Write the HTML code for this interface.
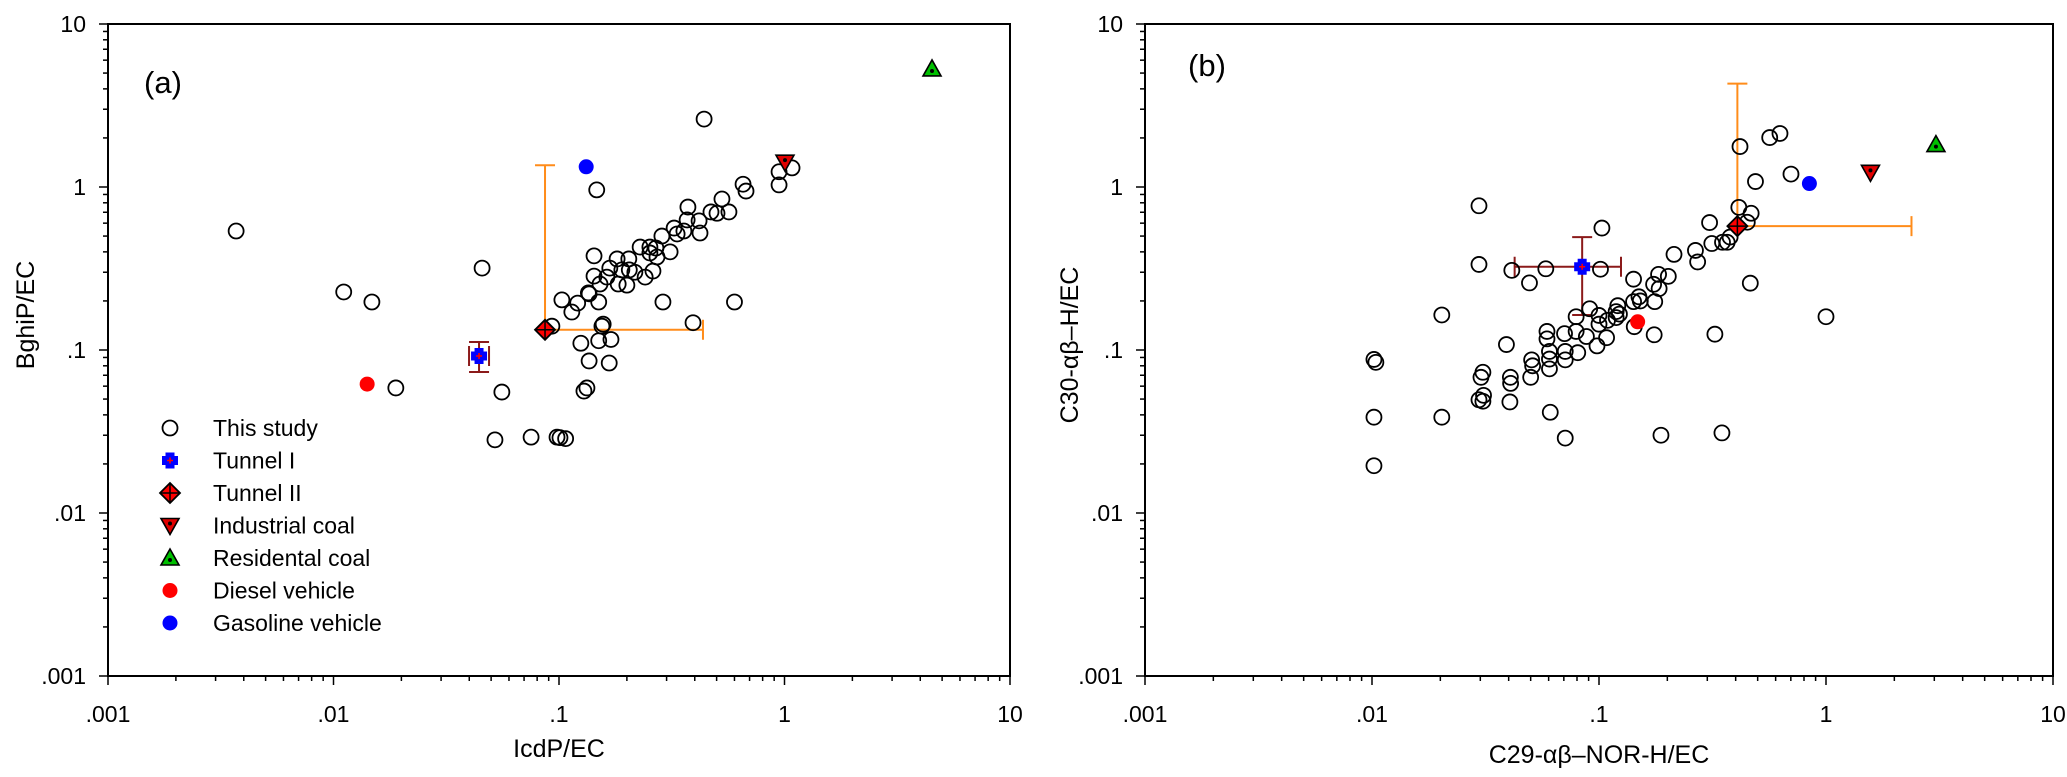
<!DOCTYPE html>
<html><head><meta charset="utf-8">
<style>
html,body{margin:0;padding:0;background:#fff;}
svg{display:block;font-family:"Liberation Sans",Arial,sans-serif;}
</style></head>
<body>
<svg id="chart" width="2067" height="777" viewBox="0 0 2067 777" xmlns="http://www.w3.org/2000/svg"></svg>
<script>
// ---------- data: panel (a) ----------
const studyAX = [0.0037,0.0111,0.0148,0.0189,0.0456,0.0558,0.052,0.0752,0.098,0.101,0.107,0.147,0.093,0.143,0.103,0.114,0.121,0.136,0.150,0.143,0.163,0.152,0.155,0.125,0.150,0.170,0.136,0.167,0.133,0.129,0.44,1.08,0.946,0.946,0.655,0.675,0.528,0.373,0.472,0.502,0.567,0.370,0.418,0.324,0.358,0.422,0.334,0.286,0.229,0.253,0.269,0.311,0.253,0.272,0.181,0.204,0.168,0.190,0.205,0.217,0.261,0.241,0.183,0.20,0.135,0.289,0.60,0.393,0.157];
const studyAY = [0.537,0.227,0.197,0.0585,0.318,0.0552,0.0281,0.0292,0.0292,0.029,0.0286,0.96,0.140,0.378,0.203,0.171,0.194,0.221,0.197,0.284,0.280,0.254,0.140,0.110,0.114,0.116,0.0857,0.0832,0.0585,0.056,2.61,1.31,1.24,1.03,1.04,0.944,0.844,0.753,0.703,0.69,0.703,0.628,0.62,0.56,0.537,0.522,0.515,0.50,0.428,0.428,0.422,0.40,0.394,0.372,0.362,0.362,0.318,0.31,0.31,0.30,0.305,0.28,0.254,0.25,0.224,0.197,0.197,0.147,0.144];
const refA = {tunnel1:[0.0442,0.0919], tunnel2:[0.0867,0.133], industrial:[1.005,1.42], residential:[4.51,5.3], diesel:[0.0141,0.0618], gasoline:[0.132,1.33]};
const errA_t1Y = [0.0733,0.112];
const errA_t2Up = 1.36;
const errA_t2Right = 0.435;
// ---------- data: panel (b) ----------
const studyBX = [0.0102,0.0104,0.0102,0.0102,0.0203,0.0203,0.0296,0.0296,0.0308,0.0302,0.0296,0.0308,0.031,0.0391,0.0413,0.0407,0.0408,0.0405,0.0494,0.0505,0.051,0.050,0.0583,0.059,0.059,0.0605,0.0605,0.0605,0.061,0.0705,0.071,0.071,0.071,0.0793,0.0793,0.0806,0.091,0.088,0.098,0.1015,0.103,0.100,0.100,0.109,0.108,0.119,0.121,0.119,0.123,0.142,0.142,0.143,0.150,0.152,0.174,0.183,0.184,0.176,0.175,0.202,0.214,0.1875,0.266,0.272,0.307,0.314,0.324,0.348,0.350,0.367,0.378,0.413,0.418,0.45,0.468,0.489,0.464,0.565,0.627,0.701,1.0];
const studyBY = [0.0875,0.084,0.0387,0.0195,0.164,0.0387,0.767,0.335,0.073,0.068,0.0495,0.0485,0.0527,0.108,0.308,0.068,0.0624,0.048,0.258,0.087,0.080,0.068,0.315,0.130,0.117,0.098,0.088,0.0766,0.0415,0.126,0.098,0.087,0.0288,0.160,0.130,0.0963,0.179,0.121,0.106,0.313,0.56,0.163,0.144,0.152,0.119,0.172,0.187,0.158,0.166,0.272,0.198,0.139,0.212,0.20,0.253,0.291,0.238,0.198,0.124,0.283,0.386,0.030,0.408,0.347,0.605,0.45,0.125,0.031,0.458,0.458,0.493,0.75,1.77,0.608,0.69,1.08,0.257,2.01,2.13,1.2,0.16];
const refB = {tunnel1:[0.0843,0.324], tunnel2:[0.407,0.575], industrial:[1.57,1.23], residential:[3.05,1.82], diesel:[0.148,0.149], gasoline:[0.845,1.05]};
const errB_t1X = [0.0425,0.125];
const errB_t1Y = [0.164,0.493];
const errB_t2Up = 4.31;
const errB_t2Right = 2.38;
const tickLabels = [".001",".01",".1","1","10"];
const tickValues = [0.001,0.01,0.1,1,10];
const legendLabels = ["This study","Tunnel I","Tunnel II","Industrial coal","Residental coal","Diesel vehicle","Gasoline vehicle"];

const NS="http://www.w3.org/2000/svg";
const svg=document.getElementById('chart');
function mk(tag,attrs,parent){const e=document.createElementNS(NS,tag);for(const k in attrs)e.setAttribute(k,attrs[k]);(parent||svg).appendChild(e);return e;}
function scaleLog(v,d0,d1,p0,p1){return p0+(Math.log10(v)-Math.log10(d0))/(Math.log10(d1)-Math.log10(d0))*(p1-p0);}

function marker(g,type,cx,cy){
  let el;
  if(type==='circle'){el=mk('circle',{cx:cx,cy:cy,r:7.5,fill:'none',stroke:'#000','stroke-width':1.8},g);
    }
  else if(type==='diesel'||type==='gasoline'){el=mk('circle',{cx:cx,cy:cy,r:7.5,fill:type==='diesel'?'#f00':'#0000ff'},g);
    }
  else if(type==='tunnel1'){const s=4.5,w=16;
    el=mk('path',{d:`M${cx-s},${cy-w/2}h${2*s}v${w/2-s}h${w/2-s}v${2*s}h-${w/2-s}v${w/2-s}h-${2*s}v-${w/2-s}h-${w/2-s}v-${2*s}h${w/2-s}z`,fill:'#0000ff'},g);
    
    mk('path',{d:`M${cx-3},${cy}h6M${cx},${cy-3}v6`,stroke:'#f00','stroke-width':1.5},g);}
  else if(type==='tunnel2'){const r=10;
    el=mk('path',{d:`M${cx},${cy-r}L${cx+r},${cy}L${cx},${cy+r}L${cx-r},${cy}Z`,fill:'#f00',stroke:'#000','stroke-width':1.8},g);
    
    mk('path',{d:`M${cx-r},${cy}h${2*r}M${cx},${cy-r}v${2*r}`,stroke:'#000','stroke-width':1.5},g);}
  else if(type==='industrial'){
    el=mk('path',{d:`M${cx-9},${cy-7}L${cx+9},${cy-7}L${cx},${cy+9}Z`,fill:'#e00000',stroke:'#000','stroke-width':1.6},g);
    
    mk('circle',{cx:cx,cy:cy-2,r:2,fill:'#000'},g);}
  else if(type==='residential'){
    el=mk('path',{d:`M${cx-9},${cy+7}L${cx+9},${cy+7}L${cx},${cy-9}Z`,fill:'#00c000',stroke:'#000','stroke-width':1.6},g);
    
    mk('circle',{cx:cx,cy:cy+2,r:2,fill:'#000'},g);}
  return el;
}

function panel(opt){
  const {L,R,T,B,id}=opt;
  const g=mk('g',{});
  
  
  const X=v=>scaleLog(v,0.001,10,L,R), Y=v=>scaleLog(v,0.001,10,B,T);
  const fr=mk('rect',{x:L,y:T,width:R-L,height:B-T,fill:'none',stroke:'#000','stroke-width':2},g);
  
  const tg=mk('g',{stroke:'#000','stroke-width':1.5},g);
  for(let d=-3;d<=1;d++){
    for(let m=1;m<=9;m++){
      if(d===1&&m>1)break;
      const v=m*Math.pow(10,d), len=m===1?9:5;
      mk('line',{x1:X(v),x2:X(v),y1:B,y2:B+len},tg);
      mk('line',{x1:L,x2:L-len,y1:Y(v),y2:Y(v)},tg);
    }
  }
  for(let i=0;i<tickValues.length;i++){
    const xt=mk('text',{x:X(tickValues[i]),y:B+46,'font-size':23,'text-anchor':'middle'},g);
    xt.textContent=tickLabels[i];
    
    const yt=mk('text',{x:L-22,y:Y(tickValues[i])+8,'font-size':23,'text-anchor':'end'},g);
    yt.textContent=tickLabels[i];
    
  }
  const xtit=mk('text',{x:(L+R)/2,y:opt.xTitleY,'font-size':25,'text-anchor':'middle'},g);
  xtit.textContent=opt.xTitle;
  const ytit=mk('text',{x:0,y:0,'font-size':25,'text-anchor':'middle',transform:`translate(${opt.yTitleX},${opt.yTitleY}) rotate(-90)`},g);
  ytit.textContent=opt.yTitle;
  const pl=mk('text',{x:opt.labX,y:opt.labY,'font-size':31,'text-anchor':'middle'},g);
  pl.textContent=opt.label;
  const orange='#ff8c1a', dred='#8b1a1a';
  const eg=mk('g',{'stroke-width':2,fill:'none'},g);
  const t2=opt.ref.tunnel2, t1=opt.ref.tunnel1;
  let e=mk('path',{d:`M${X(t2[0])},${Y(t2[1])}V${Y(opt.t2Up)}M${X(t2[0])-10},${Y(opt.t2Up)}h20`,stroke:orange},eg);
  
  e=mk('path',{d:`M${X(t2[0])},${Y(t2[1])}H${X(opt.t2Right)}M${X(opt.t2Right)},${Y(t2[1])-10}v20`,stroke:orange},eg);
  
  if(opt.t1Y){e=mk('path',{d:`M${X(t1[0])},${Y(opt.t1Y[0])}V${Y(opt.t1Y[1])}M${X(t1[0])-10},${Y(opt.t1Y[0])}h20M${X(t1[0])-10},${Y(opt.t1Y[1])}h20`,stroke:dred},eg);
    }
  if(opt.t1X){e=mk('path',{d:`M${X(opt.t1X[0])},${Y(t1[1])}H${X(opt.t1X[1])}M${X(opt.t1X[0])},${Y(t1[1])-10}v20M${X(opt.t1X[1])},${Y(t1[1])-10}v20`,stroke:dred},eg);
    }
  if(opt.boxT1){const cy=Y(t1[1]);e=mk('path',{d:`M${X(t1[0])-10},${cy-10}v20M${X(t1[0])+10},${cy-10}v20`,stroke:dred},eg);
    }
  const sg=mk('g',{},g);
  for(let i=0;i<opt.sx.length;i++) marker(sg,'circle',X(opt.sx[i]),Y(opt.sy[i]));
  for(const k of ['diesel','gasoline','industrial','residential','tunnel2','tunnel1'])
    marker(g,k,X(opt.ref[k][0]),Y(opt.ref[k][1]));
  return g;
}

panel({id:'a',L:108,R:1010,T:24,B:676,sx:studyAX,sy:studyAY,ref:refA,t2Up:errA_t2Up,t2Right:errA_t2Right,t1Y:errA_t1Y,boxT1:true,
  xTitle:'IcdP/EC',xTitleY:757,yTitle:'BghiP/EC',yTitleX:34,yTitleY:315,label:'(a)',labX:163,labY:93});
panel({id:'b',L:1145,R:2053,T:24,B:676,sx:studyBX,sy:studyBY,ref:refB,t2Up:errB_t2Up,t2Right:errB_t2Right,t1Y:errB_t1Y,t1X:errB_t1X,
  xTitle:'C29-\u03b1\u03b2\u2013NOR-H/EC',xTitleY:763,yTitle:'C30-\u03b1\u03b2\u2013H/EC',yTitleX:1078,yTitleY:345,label:'(b)',labX:1207,labY:76});

const lg=mk('g',{});


const legTypes=['circle','tunnel1','tunnel2','industrial','residential','diesel','gasoline'];
for(let i=0;i<legendLabels.length;i++){
  const y=428+i*32.5;
  const row=mk('g',{},lg);
  
  
  marker(row,legTypes[i],170,y);
  const t=mk('text',{x:213,y:y+8,'font-size':23},row);
  t.textContent=legendLabels[i];
}
</script>
</body></html>
